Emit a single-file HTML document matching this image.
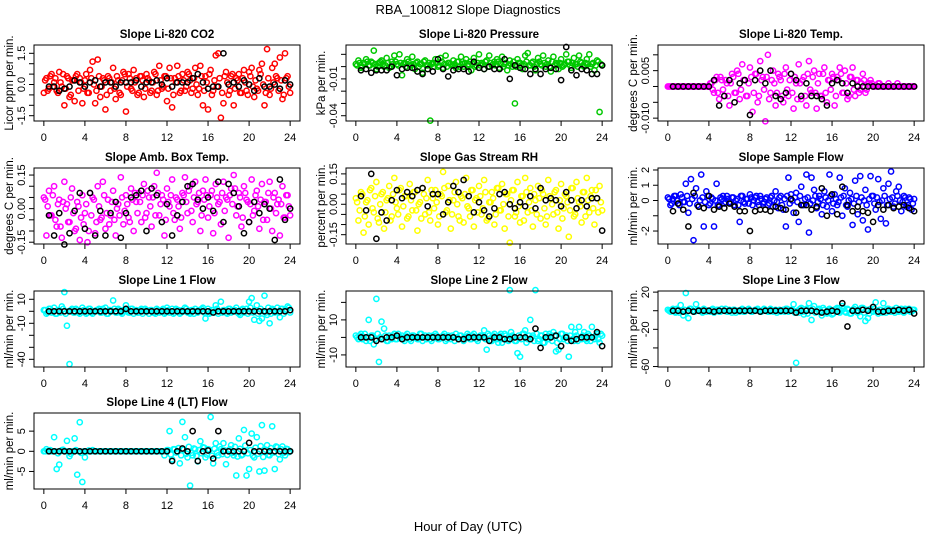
<!DOCTYPE html>
<html><head><meta charset="utf-8"><style>
html,body{margin:0;padding:0;background:#fff;}
svg{display:block;font-family:"Liberation Sans",Arial,sans-serif;}
</style></head><body>
<svg id="chart" width="936" height="540" viewBox="0 0 936 540" xmlns="http://www.w3.org/2000/svg">
<rect x="0" y="0" width="936" height="540" fill="#fff"/>
<text x="468" y="14" font-size="13" text-anchor="middle">RBA_100812  Slope Diagnostics</text>
<text x="468" y="531" font-size="13" text-anchor="middle">Hour of Day (UTC)</text>
</svg>
<script>
const hours=[0,0.25,0.5,0.75,1,1.25,1.5,1.75,2,2.25,2.5,2.75,3,3.25,3.5,3.75,4,4.25,4.5,4.75,5,5.25,5.5,5.75,6,6.25,6.5,6.75,7,7.25,7.5,7.75,8,8.25,8.5,8.75,9,9.25,9.5,9.75,10,10.25,10.5,10.75,11,11.25,11.5,11.75,12,12.25,12.5,12.75,13,13.25,13.5,13.75,14,14.25,14.5,14.75,15,15.25,15.5,15.75,16,16.25,16.5,16.75,17,17.25,17.5,17.75,18,18.25,18.5,18.75,19,19.25,19.5,19.75,20,20.25,20.5,20.75,21,21.25,21.5,21.75,22,22.25,22.5,22.75,23,23.25,23.5,23.75,24];
const hoursBand=[0.125,0.375,0.625,0.875,1.125,1.375,1.625,1.875,2.125,2.375,2.625,2.875,3.125,3.375,3.625,3.875,4.125,4.375,4.625,4.875,5.125,5.375,5.625,5.875,6.125,6.375,6.625,6.875,7.125,7.375,7.625,7.875,8.125,8.375,8.625,8.875,9.125,9.375,9.625,9.875,10.125,10.375,10.625,10.875,11.125,11.375,11.625,11.875,12.125,12.375,12.625,12.875,13.125,13.375,13.625,13.875,14.125,14.375,14.625,14.875,15.125,15.375,15.625,15.875,16.125,16.375,16.625,16.875,17.125,17.375,17.625,17.875,18.125,18.375,18.625,18.875,19.125,19.375,19.625,19.875,20.125,20.375,20.625,20.875,21.125,21.375,21.625,21.875,22.125,22.375,22.625,22.875,23.125,23.375,23.625,23.875];
const hoursRef=[0.5,1,1.5,2,2.5,3,3.5,4,4.5,5,5.5,6,6.5,7,7.5,8,8.5,9,9.5,10,10.5,11,11.5,12,12.5,13,13.5,14,14.5,15,15.5,16,16.5,17,17.5,18,18.5,19,19.5,20,20.5,21,21.5,22,22.5,23,23.5,24];
const xTicks=[0,4,8,12,16,20,24];

const co2Vals=[-0.4,0.3,-0.2,0.5,0.1,-0.3,0.6,-0.1,-1.0,0.4,-0.6,0.2,-0.8,0.5,0.3,-0.9,0.2,-0.4,0.7,1.1,-0.9,1.2,-0.6,0.3,-1.2,0.4,-0.3,0.8,-0.7,0.2,-0.5,0.6,-1.3,0.5,-0.2,0.7,0.3,-0.4,0.4,-0.6,0.5,0.2,-0.3,0.6,-0.5,0.9,-0.2,0.4,-0.8,0.8,-1.1,0.3,0.9,-0.4,0.5,-0.3,0.6,0.2,-0.2,0.8,-0.5,0.9,-1.0,0.4,-1.2,0.7,-0.3,1.4,1.5,-1.6,-0.9,0.6,-0.5,0.4,-1.0,0.3,0.5,-0.4,0.7,-0.3,0.6,0.8,-0.6,-0.2,0.7,1.0,-1.0,1.7,-0.5,0.8,1.0,0.3,1.3,-0.7,1.5,0.4,-0.4];
const co2Band=[0.2,-0.3,0.4,-0.1,0.3,-0.4,0.1,0.5,-0.2,0.3,-0.5,0.2,0.4,-0.3,0.1,-0.2,0.5,-0.4,0.3,0.0,-0.3,0.4,-0.1,0.2,-0.5,0.3,0.1,-0.2,0.4,-0.4,0.2,0.5,-0.1,0.3,-0.3,0.1,-0.5,0.4,0.2,-0.2,0.3,-0.4,0.1,0.5,-0.3,0.2,-0.1,0.4,-0.2,0.3,-0.5,0.1,0.4,-0.3,0.2,-0.1,0.5,-0.4,0.3,0.0,-0.2,0.4,-0.3,0.1,0.5,-0.5,0.2,-0.1,0.3,-0.4,0.4,0.1,-0.3,0.5,-0.2,0.2,-0.4,0.3,0.1,-0.5,0.4,-0.1,0.2,-0.3,0.5,0.0,-0.4,0.3,-0.2,0.1,0.4,-0.3,0.2,-0.5,0.3,-0.1];
const co2Ref=[-0.1,-0.1,-0.3,-0.2,-0.1,0.2,0.1,-0.1,0.1,0.2,-0.1,0.1,0.1,-0.1,0.1,0.1,0.1,0.2,-0.1,0.1,0.1,0.2,0.0,0.3,-0.1,0.1,0.1,0.1,0.3,0.5,0.1,-0.2,-0.1,-0.1,1.5,0.0,0.1,-0.1,0.2,0.0,-0.3,0.3,-0.1,-0.1,0.0,-0.2,0.2,0.0];

const presVals=[0.002,0.005,-0.001,0.003,0.006,0.001,0.004,0.013,-0.002,0.003,0.005,0.000,0.007,-0.001,0.004,0.009,0.002,0.010,-0.007,0.003,0.006,0.001,0.008,-0.002,0.004,0.002,-0.005,0.005,0.001,-0.044,0.003,0.006,0.000,0.007,-0.001,0.009,0.003,0.002,0.005,-0.001,0.004,0.008,0.000,0.006,0.002,-0.003,0.007,0.001,0.010,0.003,-0.002,0.005,0.009,0.001,0.004,0.006,-0.001,0.008,0.002,-0.003,0.005,0.000,-0.030,0.006,0.003,-0.002,0.009,0.011,0.001,0.004,-0.003,0.007,0.002,0.009,0.000,0.005,-0.004,0.008,0.003,-0.002,0.006,0.001,0.010,0.004,-0.001,0.007,0.002,0.009,0.003,0.000,0.006,0.010,0.002,-0.003,0.005,-0.037,0.001];
const presBand=[0.001,0.003,0.000,0.002,0.004,0.001,0.003,0.002,0.000,0.004,0.002,0.001,0.003,0.000,0.002,0.004,0.001,0.003,0.002,0.000,0.004,0.001,0.002,0.003,0.000,0.002,0.004,0.001,0.003,0.002,0.000,0.003,0.001,0.004,0.002,0.000,0.003,0.001,0.002,0.004,0.000,0.002,0.003,0.001,0.004,0.002,0.000,0.003,0.001,0.002,0.004,0.000,0.003,0.002,0.001,0.004,0.002,0.000,0.003,0.001,0.002,0.004,0.000,0.003,0.001,0.002,0.004,0.001,0.003,0.000,0.002,0.004,0.001,0.003,0.002,0.000,0.004,0.001,0.002,0.003,0.000,0.002,0.004,0.001,0.003,0.002,0.000,0.004,0.001,0.003,0.002,0.000,0.003,0.001,0.004,0.002];
const presRef=[-0.003,-0.002,-0.005,-0.003,-0.003,-0.003,0.000,-0.007,-0.002,-0.001,-0.001,-0.004,-0.006,-0.002,-0.004,0.006,-0.002,-0.008,-0.003,-0.002,-0.002,-0.004,0.004,-0.001,-0.002,0.000,-0.002,-0.002,0.006,-0.010,0.001,-0.001,-0.002,-0.006,-0.002,-0.006,-0.002,-0.001,-0.002,-0.011,0.016,-0.003,-0.007,-0.002,-0.003,-0.006,-0.006,0.001];

const tempVals=[0,0,0,0,0,0,0,0,0,0,0,0,0,0,0,0,0,
0.001,-0.002,0.003,-0.004,0.002,-0.003,0.001,-0.006,0.004,-0.002,
0.005,-0.004,0.007,0.002,-0.003,0.006,-0.008,0.004,-0.005,0.008,
0.003,-0.011,0.010,-0.002,0.005,-0.006,0.004,0.002,-0.005,0.006,
-0.003,0.004,-0.007,0.001,0.007,-0.004,0.003,-0.006,0.008,-0.002,
0.005,-0.007,0.004,-0.003,0.006,-0.005,0.002,0.004,-0.006,0.003,
0.006,-0.002,0.005,-0.004,0.003,0.006,-0.003,0.002,-0.001,0.004,
-0.002,0.001,0.002,
0,0,0.001,0,0,0,0.001,0,0,0,0,0,0,0,0,0,0];
const tempBand=[0,0,0,0,0,0,0,0,0,0,0,0,0,0,0,0,
0.001,-0.001,0.002,-0.002,0.003,-0.001,0.002,-0.003,0.001,0.003,-0.002,0.004,-0.001,0.002,-0.003,0.001,0.003,-0.002,0.004,-0.003,0.002,-0.001,0.003,-0.004,0.002,0.001,-0.002,0.003,-0.003,0.004,-0.001,0.002,-0.002,0.003,-0.004,0.001,0.002,-0.003,0.004,-0.001,0.003,-0.002,0.001,-0.003,0.004,-0.002,0.002,-0.001,0.003,-0.003,0.002,0.004,-0.002,0.001,-0.003,0.003,-0.001,0.002,-0.002,0.001,0.002,-0.001,0.001,0.001,
0,0,0.001,0,0,0,0,0,0,0.001,0,0,0,0,0,0];
const tempRef=[0,0,0,0,0,0,0,0,0.002,-0.006,-0.003,0.002,-0.005,0.001,0.002,-0.009,0.002,0.005,0.001,0.005,-0.003,-0.004,-0.002,0.004,0.002,-0.003,0.001,-0.003,-0.003,-0.004,-0.006,0.001,0.002,0.001,-0.002,0.001,0,0,0,0,0,0,0,0,0,0,0,0];

const ambVals=[0.05,-0.12,0.08,-0.03,0.10,-0.08,0.04,-0.13,0.12,0.02,-0.06,0.09,-0.10,0.03,-0.14,0.06,-0.02,-0.15,0.07,0.05,-0.11,0.10,-0.05,0.12,-0.09,0.04,-0.03,0.08,-0.12,0.02,0.14,-0.07,0.06,-0.04,0.09,-0.10,0.03,0.07,-0.06,0.11,-0.02,0.05,-0.08,0.10,0.16,-0.03,0.06,-0.12,0.09,0.01,0.13,-0.05,0.04,-0.09,0.07,0.14,-0.02,0.10,-0.06,0.12,0.03,-0.10,0.08,0.13,-0.04,0.06,-0.11,0.11,0.02,-0.07,0.12,0.05,-0.13,0.09,0.15,-0.03,0.07,-0.08,0.10,0.04,-0.06,0.13,-0.01,0.08,-0.09,0.11,0.03,-0.05,0.12,-0.10,0.07,0.02,-0.12,0.10,-0.04,0.06,-0.03];
const ambBand=[0.04,0.01,-0.03,0.06,-0.05,0.02,-0.08,0.03,0.00,-0.06,0.05,-0.02,-0.09,0.01,-0.04,-0.07,0.02,-0.10,-0.03,0.04,-0.06,0.01,-0.04,0.06,-0.02,-0.07,0.03,-0.05,0.00,-0.03,0.05,-0.01,0.02,-0.06,0.04,0.07,-0.02,0.03,0.06,-0.04,0.08,0.01,0.05,-0.03,0.07,0.02,0.04,-0.05,0.03,0.06,-0.02,0.05,0.01,-0.04,0.06,0.03,0.08,-0.01,0.05,0.02,0.07,-0.03,0.04,0.06,0.01,0.08,-0.02,0.05,0.03,0.07,-0.01,0.04,0.06,0.02,0.09,0.01,0.05,-0.04,0.07,0.03,0.02,-0.03,0.06,0.01,0.04,-0.05,0.03,0.07,0.00,0.05,-0.02,0.04,0.02,-0.04,0.06,0.01];
const ambRef=[-0.03,-0.12,-0.02,-0.16,-0.11,-0.01,0.07,-0.09,0.07,-0.12,-0.01,-0.12,-0.02,0.03,-0.13,-0.02,0.05,0.06,0.08,-0.10,0.09,0.06,-0.06,0.02,-0.12,-0.03,0.03,0.10,0.11,0.04,0.00,0.05,-0.01,0.12,-0.06,0.11,0.07,0.01,-0.11,-0.06,0.03,-0.02,0.02,0.00,-0.14,0.13,-0.05,0.00];

const rhVals=[0.03,-0.08,0.06,-0.14,0.01,-0.10,0.08,-0.04,0.11,-0.09,0.05,-0.12,0.02,0.09,-0.06,0.13,-0.02,0.07,-0.11,0.04,-0.07,0.10,-0.03,0.06,-0.13,0.01,0.08,-0.05,0.12,-0.08,0.03,0.07,-0.10,0.05,0.16,-0.04,0.09,-0.12,0.02,0.11,-0.06,0.04,-0.09,0.13,-0.02,0.07,-0.11,0.03,0.09,-0.05,0.12,-0.08,0.01,0.06,-0.10,0.08,-0.03,0.10,-0.12,0.05,-0.19,0.07,-0.06,0.11,-0.09,0.04,0.13,-0.04,0.08,-0.11,0.02,0.09,-0.07,0.05,-0.10,0.12,0.03,-0.05,0.07,-0.12,0.10,-0.02,0.04,-0.16,0.08,-0.06,0.11,0.01,-0.09,0.06,0.13,-0.04,0.07,-0.10,0.03,0.09,-0.03];
const rhBand=[0.01,-0.03,0.05,-0.06,0.02,0.07,-0.02,0.04,-0.07,0.00,0.06,-0.04,0.03,-0.08,0.05,0.01,-0.05,0.08,-0.01,0.04,-0.06,0.02,0.06,-0.03,0.00,-0.07,0.05,0.03,-0.04,0.07,-0.02,0.01,-0.06,0.04,0.08,-0.03,0.02,-0.05,0.06,0.00,-0.08,0.03,0.05,-0.01,-0.06,0.07,0.02,-0.04,0.04,-0.02,0.06,-0.07,0.01,0.03,-0.05,0.08,-0.03,0.00,0.05,-0.06,0.02,0.07,-0.04,-0.01,0.04,-0.08,0.06,0.01,-0.03,0.05,-0.05,0.03,0.07,-0.02,-0.06,0.04,0.00,0.06,-0.04,0.02,-0.07,0.05,0.01,-0.03,0.08,-0.05,0.03,-0.01,0.06,-0.06,0.02,0.04,-0.02,0.07,-0.04,0.01];
const rhRef=[0.04,-0.03,0.15,-0.17,-0.04,-0.08,0.02,0.07,0.03,0.06,0.04,0.07,0.08,-0.01,0.05,0.05,-0.05,0.01,0.09,0.06,0.12,0.04,-0.04,0.01,-0.03,-0.06,-0.02,0.05,0.06,0.00,-0.02,0.01,-0.01,0.04,-0.02,0.08,0.02,0.03,0.02,-0.01,0.06,0.02,-0.02,0.02,-0.01,0.03,0.03,-0.13];

const sampVals=[0.2,-0.3,0.1,0.3,-0.2,0.4,-0.1,1.1,-0.8,1.4,-2.6,0.8,-0.4,1.7,-1.7,0.6,-0.3,0.2,-1.7,1.1,-0.3,0.1,-0.2,0.3,-0.1,0.2,-0.3,0.1,-1.4,0.3,-0.2,0.1,0.4,-0.3,0.2,-0.1,0.3,-0.2,0.1,-0.3,0.2,-0.4,0.6,-0.5,0.3,-0.6,-1.7,1.5,0.4,-0.8,0.5,-1.4,0.9,-0.3,1.7,-2.1,1.5,0.7,-0.5,0.3,-0.9,0.6,-0.4,1.7,-0.7,0.4,-0.3,1.5,-1.0,0.8,-0.4,0.5,-1.6,1.3,-0.9,1.6,-1.3,0.7,-1.9,1.6,0.3,-0.6,1.4,-1.2,0.8,-1.5,1.1,1.9,-0.4,0.6,0.9,-0.7,0.3,-0.4,0.2,-0.6,0.1];
const sampBand=[0.1,-0.2,0.3,0.0,-0.3,0.2,-0.1,0.3,-0.2,0.1,0.3,-0.3,0.0,0.2,-0.1,0.3,-0.2,0.1,0.0,-0.3,0.2,0.3,-0.1,0.1,-0.2,0.2,0.0,-0.3,0.3,-0.1,0.1,-0.2,0.2,0.0,0.3,-0.3,0.1,-0.1,0.2,-0.2,0.3,0.0,-0.1,0.2,-0.3,0.1,0.3,-0.2,0.0,0.2,-0.1,0.3,-0.3,0.1,0.2,-0.2,0.0,0.3,-0.1,0.1,-0.3,0.2,0.0,0.3,-0.2,0.1,-0.1,0.2,0.3,-0.3,0.0,0.1,-0.2,0.3,-0.1,0.2,0.0,-0.3,0.1,0.3,-0.2,0.2,-0.1,0.0,0.3,-0.3,0.1,0.2,-0.2,0.3,0.0,-0.1,0.2,-0.3,0.1,-0.2];
const sampRef=[-0.7,-0.2,-0.6,-1.7,0.5,-0.4,-0.5,0.3,-0.6,-0.4,-0.5,-0.2,-0.4,-0.7,-0.7,-2.0,-0.7,-0.6,-0.6,-0.7,-0.4,-0.5,-0.6,0.1,-0.8,-0.3,-0.3,-0.6,-0.4,0.8,-1.0,0.4,-0.9,0.9,-0.3,-0.7,-0.4,-0.7,-0.8,-1.4,-0.3,-0.6,-0.3,-0.5,-0.4,-0.3,-0.5,-0.7];

const line1Vals=[1,-2,2,-1,3,-2,1,4,16,-12,-44,2,-1,1,-2,3,1,-1,2,-2,0,1,-1,2,3,-2,1,9,-1,2,-1,1,5,-1,2,-2,1,-1,2,0,1,-2,1,-1,2,-1,1,-2,3,-1,2,-1,1,-2,1,3,-1,-2,1,2,-1,1,3,-6,2,-1,1,5,-2,8,1,-1,2,-1,1,3,-2,1,-1,2,8,11,-7,5,-8,-6,13,-3,-10,2,-1,3,-5,2,1,4,-1];
const line1Band=[1,-1,2,0,-2,1,-1,2,-2,0,1,-1,2,-1,0,1,-2,2,-1,0,1,2,-1,0,-2,1,0,2,-1,1,-2,0,1,-1,2,0,-1,1,-2,2,0,1,-1,-2,1,0,2,-1,1,0,-2,2,1,-1,0,2,-1,1,-2,0,1,2,-1,0,-2,1,-1,2,0,-1,1,-2,2,0,1,-1,-3,2,0,-2,3,-1,1,-2,2,0,-1,3,-2,1,0,-1,2,-2,1,3];
const line1Ref=[0,0,0,0,0,0,0,0,0,0,0,0,0,0,0,2,0,0,0,0,0,0,0,0,0,0,0,0,0,0,0,0,-1,0,0,0,0,0,0,0,0,0,0,0,0,0,0,1];

const line2Vals=[1,-1,2,0,-2,10,1,-4,22,-14,9,5,-2,1,-1,2,-1,0,1,-2,2,-1,1,0,-1,2,-2,1,0,-1,1,2,-1,0,1,-2,1,-1,0,2,-1,1,-2,0,1,-1,2,-1,0,1,4,-7,1,-2,2,-1,1,-3,2,-1,27,1,-2,-9,-11,2,4,-1,10,1,27,-2,1,-3,2,-1,1,3,-8,-7,2,-1,1,-11,6,-2,1,6,-1,3,-2,1,6,-1,2,-3,1];
const line2Band=[0,1,-1,2,0,-2,1,-1,2,0,-1,1,-2,0,1,-1,2,0,-1,1,0,-2,1,0,-1,2,0,-1,1,-2,0,1,-1,0,2,-1,0,1,-2,0,1,-1,0,2,-1,1,0,-2,1,0,-1,2,-2,1,0,-3,2,-1,1,-2,3,0,-2,1,-1,2,-3,1,0,-2,2,-1,1,-3,0,2,-2,1,-3,-1,2,0,-2,1,-1,3,-2,0,1,-1,2,-2,0,1,-1,2];
const line2Ref=[0,0,0,-2,-1,0,0,1,-1,0,0,0,0,0,0,0,0,0,0,-1,-1,0,0,0,0,-2,0,0,-1,-1,0,0,0,-1,5,-6,0,0,1,-5,0,-2,-1,0,0,0,3,-5];

const line3Vals=[1,-1,2,-2,1,6,-5,19,-8,2,-1,7,1,-1,2,-1,0,1,-2,1,-1,2,0,-1,1,-2,1,0,-1,2,-1,1,0,-1,1,2,-1,0,1,-1,2,-1,1,0,-1,1,2,-1,1,7,-56,-2,3,-4,2,8,-10,5,-1,2,-5,1,-3,2,-4,1,3,-2,5,-1,2,-3,1,4,-2,-6,3,-11,-8,2,-1,9,-3,1,8,-2,2,-1,1,3,-1,2,-2,1,2,-1,1];
const line3Band=[0,1,-1,2,-2,0,1,-1,2,0,-1,1,0,-2,1,0,-1,2,0,1,-1,0,2,-1,0,1,-2,0,1,-1,0,2,-1,0,1,0,-1,2,0,-1,1,0,-2,1,0,-1,2,0,1,-2,0,2,-1,1,-3,0,2,-2,1,-1,3,-2,0,1,-3,2,-1,0,2,-2,1,-3,2,0,-1,3,-2,1,-3,0,2,-1,1,-2,0,2,-1,1,-2,0,1,-1,2,0,-1,1];
const line3Ref=[0,0,-1,0,-1,0,0,0,-1,0,0,0,0,0,0,0,0,-1,0,0,0,0,0,0,-2,0,0,0,-1,-2,-1,0,-1,8,-17,0,0,1,0,4,-1,-1,0,0,1,0,1,-3];

const line4Vals=[0,0.5,0,0,3.5,-4.4,-3.3,0.3,0,2.6,-1.2,0,3.2,-5.8,7.2,-7.6,-1.5,0,0,0.3,0,0,0,0,0,0,0,0,0,0,0,0,0,0,0,0,0,0,0,0,0,0,0,0,0,0,0,-1,0.3,5,-2,0.5,0,-3,7.3,3.5,-1.5,-8.5,-1,0.5,-2.5,2.5,1,-1.5,0.5,8.5,-3,2,-1,0.5,2,-3.2,0,1.5,-1,-6,3.2,-1,5.3,-6,-4.4,4.4,-1.5,3.5,-5,6.5,-4.8,1.5,-1,6.2,-4.4,1,-2,1.2,-1,0.5,0];
const line4Band=[0,0,0.3,0,0,-0.5,0,0.4,0,0,-0.6,0,0.3,0,-0.4,0,0,0.2,0,0,0,0,0,0,0,0,0,0,0,0,0,0,0,0,0,0,0,0,0,0,0,0,0,0,0,0,0,0,0.3,-0.8,0.5,-0.3,0.8,-1,0.4,-0.6,1.1,-0.4,0.7,-1.2,0.3,-0.5,0.9,-0.8,0.4,-1.1,0.6,-0.3,1.2,-0.7,0.2,-0.9,0.5,-0.4,1.1,-1.3,0.6,-0.8,1.4,-0.5,0.3,-1.1,0.9,-0.6,1.3,-1.4,0.4,-0.9,0.8,-0.3,1.2,-0.7,0.5,-0.4,0.6,-0.2];
const line4Ref=[0,0,0,0,0,0,0,0,0,0,0,0,0,0,0,0,0,0,0,0,0,0,0,0,-2.4,0,0.7,0,5,-2.4,0,0.2,-1.8,5,0,0,0,0,0,2.1,0,0,0,0,0,0,0,0];

const svg=document.getElementById('chart');
const NS='http://www.w3.org/2000/svg';
function mk(tag,attrs,parent){const e=document.createElementNS(NS,tag);for(const k in attrs)e.setAttribute(k,attrs[k]);(parent||svg).appendChild(e);return e;}

const panels=[
 {key:'co2',title:'Slope Li-820 CO2',ylab:'Licor ppm per min.',col:0,row:0,ymin:-1.755,ymax:1.9,ticks:[-1.5,-1,-0.5,0,0.5,1,1.5],labels:{'-1.5':'-1.5','0':'0.0','1.5':'1.5'},color:'#ff0000',vals:co2Vals,band:co2Band,ref:co2Ref},
 {key:'pressure',title:'Slope Li-820 Pressure',ylab:'kPa per min.',col:1,row:0,ymin:-0.0443,ymax:0.0176,ticks:[-0.04,-0.03,-0.02,-0.01,0,0.01],labels:{'-0.04':'-0.04','-0.01':'-0.01'},color:'#00c800',vals:presVals,band:presBand,ref:presRef},
 {key:'temp',title:'Slope Li-820 Temp.',ylab:'degrees C per min.',col:2,row:0,ymin:-0.0109,ymax:0.0131,ticks:[-0.01,-0.005,0,0.005,0.01],labels:{'-0.01':'-0.010','0.005':'0.005'},color:'#ff00ff',vals:tempVals,band:tempBand,ref:tempRef},
 {key:'amb',title:'Slope Amb. Box Temp.',ylab:'degrees C per min.',col:0,row:1,ymin:-0.158,ymax:0.1815,ticks:[-0.15,-0.1,-0.05,0,0.05,0.1,0.15],labels:{'-0.15':'-0.15','0':'0.00','0.15':'0.15'},color:'#ff00ff',vals:ambVals,band:ambBand,ref:ambRef},
 {key:'rh',title:'Slope Gas Stream RH',ylab:'percent per min.',col:1,row:1,ymin:-0.196,ymax:0.179,ticks:[-0.15,-0.1,-0.05,0,0.05,0.1,0.15],labels:{'-0.15':'-0.15','0':'0.00','0.15':'0.15'},color:'#ffff00',vals:rhVals,band:rhBand,ref:rhRef},
 {key:'sample',title:'Slope Sample Flow',ylab:'ml/min per min.',col:2,row:1,ymin:-2.85,ymax:2.13,ticks:[-2,-1,0,1,2],labels:{'-2':'-2','0':'0','1':'1','2':'2'},color:'#0000ff',vals:sampVals,band:sampBand,ref:sampRef},
 {key:'line1',title:'Slope Line 1 Flow',ylab:'ml/min per min.',col:0,row:2,ymin:-46.4,ymax:16.9,ticks:[-40,-30,-20,-10,0,10],labels:{'-40':'-40','-10':'-10','10':'10'},color:'#00ffff',vals:line1Vals,band:line1Band,ref:line1Ref},
 {key:'line2',title:'Slope Line 2 Flow',ylab:'ml/min per min.',col:1,row:2,ymin:-16.9,ymax:26.5,ticks:[-10,0,10,20],labels:{'-10':'-10','10':'10'},color:'#00ffff',vals:line2Vals,band:line2Band,ref:line2Ref},
 {key:'line3',title:'Slope Line 3 Flow',ylab:'ml/min per min.',col:2,row:2,ymin:-60.5,ymax:21.2,ticks:[-60,-40,-20,0,20],labels:{'-60':'-60','-20':'-20','20':'20'},color:'#00ffff',vals:line3Vals,band:line3Band,ref:line3Ref},
 {key:'line4',title:'Slope Line 4 (LT) Flow',ylab:'ml/min per min.',col:0,row:3,ymin:-9.35,ymax:9.5,ticks:[-5,0,5],labels:{'-5':'-5','0':'0','5':'5'},color:'#00ffff',vals:line4Vals,band:line4Band,ref:line4Ref}
];
const colX=[34,346,658], rowY=[45,168,291,413], W=266, H=76;

panels.forEach(p=>{
  const x0=colX[p.col], y0=rowY[p.row];
  const sx=h=>x0+(h+0.96)/25.92*W;
  const sy=v=>y0+H-(v-p.ymin)/(p.ymax-p.ymin)*H;
  const g=mk('g',{});
  
  
  const t=mk('text',{x:x0+W/2,y:y0-7,'font-size':11.5,'font-weight':'bold','text-anchor':'middle'},g);
  t.textContent=p.title;
  
  
  const xa=mk('g',{},g);
  
  
  mk('line',{x1:sx(0),x2:sx(24),y1:y0+H,y2:y0+H,stroke:'#000','stroke-width':1},xa);
  xTicks.forEach(v=>{
    mk('line',{x1:sx(v),x2:sx(v),y1:y0+H,y2:y0+H+5,stroke:'#000','stroke-width':1},xa);
    const l=mk('text',{x:sx(v),y:y0+H+20,'font-size':11,'text-anchor':'middle'},xa);
    l.textContent=String(v);
    
    
  });
  const ya=mk('g',{},g);
  
  
  p.ticks.forEach(v=>{
    mk('line',{x1:x0-5,x2:x0,y1:sy(v),y2:sy(v),stroke:'#000','stroke-width':1},ya);
    const lab=p.labels[String(v)];
    if(lab!==undefined){
      const l=mk('text',{x:x0-9,y:sy(v),'font-size':11,'text-anchor':'middle',transform:'rotate(-90 '+(x0-9)+' '+sy(v)+')'},ya);
      l.textContent=lab;
      
      
    }
  });
  const yt=mk('text',{x:x0-21,y:y0+H/2,'font-size':11.5,'text-anchor':'middle',transform:'rotate(-90 '+(x0-21)+' '+(y0+H/2)+')'},g);
  yt.textContent=p.ylab;
  
  
  const cs=mk('g',{},g);
  
  
  const nb=Math.min(hoursBand.length,p.band.length);
  for(let i=0;i<nb;i++){
    const c=mk('circle',{cx:sx(hoursBand[i]),cy:sy(p.band[i]),r:2.6,fill:'none',stroke:p.color,'stroke-width':1.5},cs);
    
    
  }
  const n=Math.min(hours.length,p.vals.length);
  for(let i=0;i<n;i++){
    const c=mk('circle',{cx:sx(hours[i]),cy:sy(p.vals[i]),r:2.6,fill:'none',stroke:p.color,'stroke-width':1.5},cs);
    
    
  }
  const rs=mk('g',{},g);
  
  
  const m=Math.min(hoursRef.length,p.ref.length);
  for(let i=0;i<m;i++){
    const c=mk('circle',{cx:sx(hoursRef[i]),cy:sy(p.ref[i]),r:2.6,fill:'none',stroke:'#000','stroke-width':1.5},rs);
    
    
  }
  const box=mk('rect',{x:x0,y:y0,width:W,height:H,fill:'none',stroke:'#000','stroke-width':1},g);
  
  
});
</script>
</body></html>
